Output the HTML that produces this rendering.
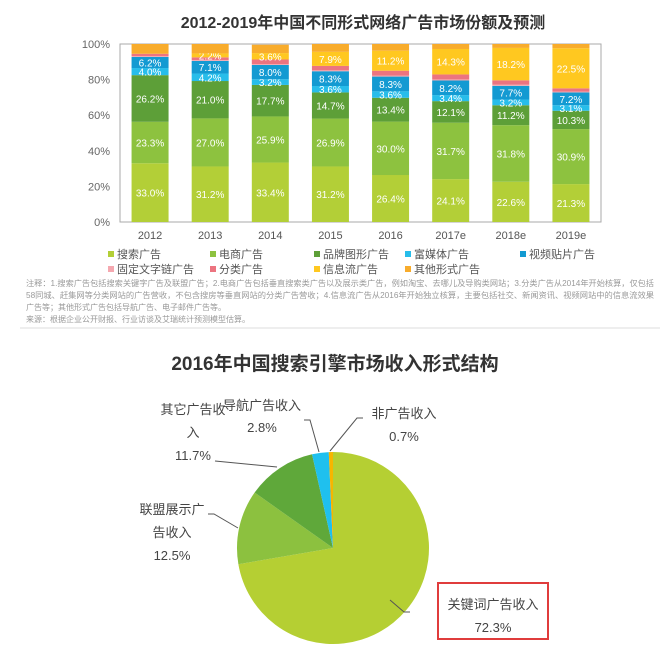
<!DOCTYPE html>
<html><head><meta charset="utf-8">
<style>
body{margin:0;background:#fff;width:667px;height:666px;overflow:hidden;font-family:"Liberation Sans","Noto Sans CJK SC",sans-serif;}
svg text{font-family:"Liberation Sans","Noto Sans CJK SC",sans-serif;}
</style></head><body>
<svg id="s" width="667" height="666">
<text x="363" y="28" text-anchor="middle" font-size="16" font-weight="bold" fill="#333">2012-2019年中国不同形式网络广告市场份额及预测</text>
<g id="bars"></g>
<g id="legend"></g>
<g font-size="8" fill="#999">
<text x="26" y="286" textLength="628" lengthAdjust="spacingAndGlyphs">注释：1.搜索广告包括搜索关键字广告及联盟广告；2.电商广告包括垂直搜索类广告以及展示类广告，例如淘宝、去哪儿及导购类网站；3.分类广告从2014年开始核算，仅包括</text>
<text x="26" y="298" textLength="628" lengthAdjust="spacingAndGlyphs">58同城、赶集网等分类网站的广告营收，不包含搜房等垂直网站的分类广告营收；4.信息流广告从2016年开始独立核算，主要包括社交、新闻资讯、视频网站中的信息流效果</text>
<text x="26" y="310">广告等；其他形式广告包括导航广告、电子邮件广告等。</text>
<text x="26" y="322">来源：根据企业公开财报、行业访谈及艾瑞统计预测模型估算。</text>
</g>
<line x1="20" y1="328" x2="660" y2="328" stroke="#ddd"/>
<text x="335" y="370" text-anchor="middle" font-size="19" font-weight="bold" fill="#333">2016年中国搜索引擎市场收入形式结构</text>
<g id="pie"></g>
<g font-size="13" fill="#444" text-anchor="middle">
<text x="262" y="410">导航广告收入</text><text x="262" y="432">2.8%</text>
<text x="193" y="414">其它广告收</text><text x="193" y="437">入</text><text x="193" y="460">11.7%</text>
<text x="404" y="418">非广告收入</text><text x="404" y="441">0.7%</text>
<text x="172" y="514">联盟展示广</text><text x="172" y="537">告收入</text><text x="172" y="560">12.5%</text>
<text x="493" y="609">关键词广告收入</text><text x="493" y="632">72.3%</text>
<polyline points="215,461 277,467" fill="none" stroke="#555"/>
<polyline points="304,420 310,420 319,452" fill="none" stroke="#555"/>
<polyline points="363,418 357,418 330,451" fill="none" stroke="#555"/>
<polyline points="208,514 214,514 238,528" fill="none" stroke="#555"/>
<polyline points="410,612 404,612 390,600" fill="none" stroke="#555"/>
</g>
<rect x="438" y="583" width="110" height="56" fill="none" stroke="#e03c3c" stroke-width="2"/>
</svg>
<script>
const years=["2012","2013","2014","2015","2016","2017e","2018e","2019e"];
const search=[33.0,31.2,33.4,31.2,26.4,24.1,22.6,21.3];
const ecommerce=[23.3,27.0,25.9,26.9,30.0,31.7,31.8,30.9];
const brand=[26.2,21.0,17.7,14.7,13.4,12.1,11.2,10.3];
const richMedia=[4.0,4.2,3.2,3.6,3.6,3.4,3.2,3.1];
const video=[6.2,7.1,8.0,8.3,8.3,8.2,7.7,7.2];
const fixedText=[0.5,0.5,0.5,0.5,0.6,0.6,0.6,0.5];
const classified=[1.3,1.5,2.6,2.5,2.7,2.8,2.5,1.8];
const feed=[0,2.2,3.6,7.9,11.2,14.3,18.2,22.5];
const other=[5.5,5.3,4.7,4.4,3.8,2.8,2.8,2.4];
const yTicks=[0,20,40,60,80,100];
const seriesNames=["搜索广告","电商广告","品牌图形广告","富媒体广告","视频贴片广告","固定文字链广告","分类广告","信息流广告","其他形式广告"];
const pieNames=["关键词广告收入","联盟展示广告收入","其它广告收入","导航广告收入","非广告收入"];
const pieValues=[72.3,12.5,11.7,2.8,0.7];

const NS="http://www.w3.org/2000/svg";
function mk(t,a,p){const e=document.createElementNS(NS,t);for(const k in a)e.setAttribute(k,a[k]);p.appendChild(e);return e;}
const L=120,R=601,T=44,B=222;
const y=v=>B-(B-T)*v/100;
const bw=(R-L)/years.length;
const x=i=>L+bw*(i+0.5);
const g=document.getElementById('bars');
const colors=["#b3cf37","#8dc23f","#5d9f38","#27bdea","#139ad2","#f5a8b0","#ec7480","#ffc820","#f8ac2c"];
const series=[search,ecommerce,brand,richMedia,video,fixedText,classified,feed,other];
const labeled=[true,true,true,true,true,false,false,true,false];
yTicks.forEach(t=>{
 const tx=mk('text',{x:L-10,y:y(t)+4,'text-anchor':'end','font-size':11,fill:'#666'},g);
 
 
 tx.textContent=t+'%';
});
const frame=mk('rect',{x:L,y:T,width:R-L,height:B-T,fill:'none',stroke:'#aaa'},g);


years.forEach((yr,i)=>{
 let acc=0;
 series.forEach((s,k)=>{
  const v=s[i];if(v<=0)return;
  const r=mk('rect',{x:x(i)-18.5,y:y(Math.min(acc+v,100)),width:37,height:y(acc)-y(Math.min(acc+v,100)),fill:colors[k]},g);
  
  
  if(labeled[k]){
   const tx=mk('text',{x:x(i),y:(y(acc)+y(acc+v))/2+4,'text-anchor':'middle','font-size':10,fill:'#fff'},g);
   
   
   tx.textContent=v.toFixed(1)+'%';
  }
  acc+=v;
 });
 const lb=mk('text',{x:x(i),y:B+17,'text-anchor':'middle','font-size':11,fill:'#555'},g);
 
 
 lb.textContent=yr;
});
const lg=document.getElementById('legend');
const lx=[108,210,314,405,520];
seriesNames.forEach((n,k)=>{
 const cx=lx[k%5],cy=k<5?258:273;
 const it=mk('g',{},lg);
 
 
 mk('rect',{x:cx,y:cy-7,width:6,height:6,fill:colors[k]},it);
 const t=mk('text',{x:cx+9,y:cy,'font-size':11,fill:'#555'},it);
 t.textContent=n;
});
const pg=document.getElementById('pie');
const pc=["#b5cf33","#8cc13f","#5fa83a","#1fc0ee","#f7b500"];
const cx=333,cy=548,r=96;
const tot=pieValues.reduce((a,b)=>a+b,0);
let a0=0;
pieValues.forEach((v,i)=>{
 const a1=a0+v/tot*2*Math.PI;
 const p=(a)=>[cx+r*Math.sin(a),cy-r*Math.cos(a)];
 const [x0,y0]=p(a0),[x1,y1]=p(a1);
 const path=mk('path',{d:`M${cx},${cy}L${x0},${y0}A${r},${r} 0 ${a1-a0>Math.PI?1:0} 1 ${x1},${y1}Z`,fill:pc[i]},pg);
 
 
 a0=a1;
});
</script>
</body></html>
